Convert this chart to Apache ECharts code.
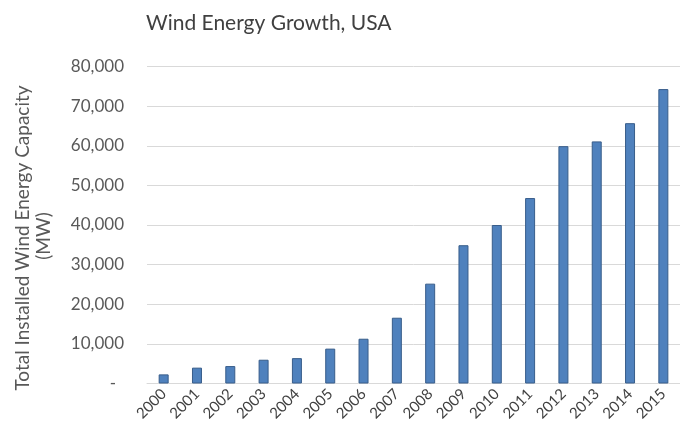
<!DOCTYPE html>
<html>
<head>
<meta charset="utf-8">
<style>
  html, body { margin: 0; padding: 0; background: #ffffff; }
  #chart { width: 680px; height: 439px; }
</style>
<script src="https://cdn.jsdelivr.net/npm/echarts@6/dist/echarts.min.js"></script>
</head>
<body>
<div id="chart"></div>
<script>
// Installed US wind capacity by year (MW)
const years = ['2000', '2001', '2002', '2003', '2004', '2005', '2006', '2007',
               '2008', '2009', '2010', '2011', '2012', '2013', '2014', '2015'];
const capacityMW = [2300, 4000, 4400, 6000, 6400, 8800, 11300, 16600,
                    25200, 34900, 40000, 46800, 59900, 61100, 65700, 74300];
const yTicks = [0, 10000, 20000, 30000, 40000, 50000, 60000, 70000, 80000];

const FONT = 'Lato, "Open Sans", sans-serif';
const chart = echarts.init(document.getElementById('chart'), null, { renderer: 'canvas' });

chart.setOption({
  animation: false,
  backgroundColor: '#ffffff',
  title: {
    text: 'Wind Energy Growth, USA',
    left: 141,
    top: 8,
    textStyle: { fontFamily: FONT, fontSize: 21, fontWeight: 'normal', color: '#404040' }
  },
  grid: { left: 147, top: 66.5, width: 544, bottom: 55.5, containLabel: false },
  xAxis: {
    type: 'category',
    data: years,
    axisLine: { show: true, lineStyle: { color: '#d9d9d9', width: 1 } },
    axisTick: { show: false },
    axisLabel: {
      rotate: 45,
      margin: 8,
      interval: 0,
      fontFamily: FONT,
      fontSize: 15,
      color: '#404040'
    }
  },
  yAxis: {
    type: 'value',
    min: yTicks[0],
    max: yTicks[yTicks.length - 1],
    interval: yTicks[1] - yTicks[0],
    axisLine: { show: false },
    axisTick: { show: false },
    splitLine: { lineStyle: { color: '#d9d9d9', width: 1 } },
    axisLabel: {
      margin: 23,
      fontFamily: FONT,
      fontSize: 17,
      color: '#595959',
      formatter: function (v) {
        return v === 0 ? '{dash|-}' : v.toLocaleString('en-US');
      },
      rich: {
        dash: { fontFamily: FONT, fontSize: 17, color: '#595959', padding: [0, 8, 0, 0] }
      }
    }
  },
  graphic: [
    {
      type: 'text',
      x: 23, y: 238,
      rotation: Math.PI / 2,
      style: {
        text: 'Total Installed Wind Energy Capacity',
        fontFamily: FONT, fontSize: 19, fill: '#595959',
        align: 'center', verticalAlign: 'middle'
      }
    },
    {
      type: 'text',
      x: 44, y: 236,
      rotation: Math.PI / 2,
      style: {
        text: '(MW)',
        fontFamily: FONT, fontSize: 19, fill: '#595959',
        align: 'center', verticalAlign: 'middle'
      }
    }
  ],
  series: [{
    type: 'bar',
    data: capacityMW,
    barWidth: 10,
    itemStyle: { color: '#4f81bd', borderColor: '#385d8a', borderWidth: 1 }
  }]
});
</script>
</body>
</html>
